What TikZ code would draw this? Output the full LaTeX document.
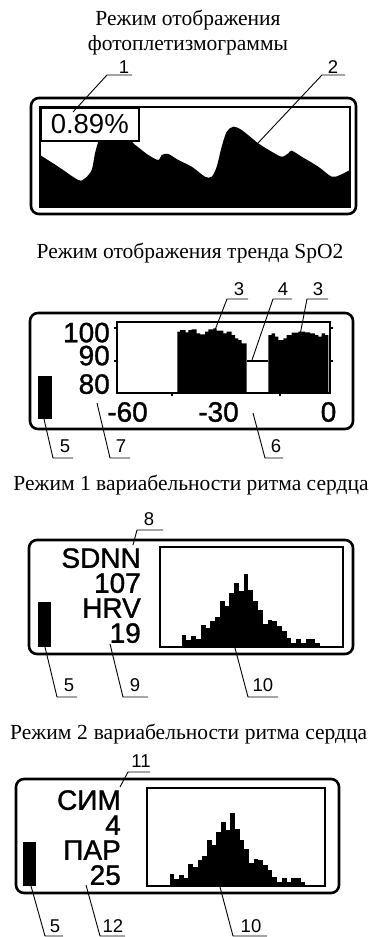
\documentclass[tikz,border=0pt]{standalone}
\usepackage{fontspec}
\setmainfont{Liberation Serif}
\newfontfamily\arialf{Liberation Sans}
\newfontfamily\arialm[FakeBold=1.2]{Liberation Sans}
\tikzset{
  ttl/.style={font=\fontsize{21.5}{24}\selectfont, inner sep=0pt},
  big/.style={font=\arialm\fontsize{28}{28}\selectfont, inner sep=0pt},
  stack/.style={font=\arialm\fontsize{28}{25}\selectfont, inner sep=0pt, align=right, anchor=north east},
  lab/.style={font=\arialf\fontsize{18.5}{18.5}\selectfont, inner sep=0pt},
  outerbox/.style={line width=2.6pt, rounded corners=8pt},
  innerbox/.style={line width=1.8pt},
  leader/.style={line width=0.9pt},
}
\newcommand\hrvhist[3]{%
  \foreach \h [count=\i from 0] in {12.3,7.3,10.7,8,22.3,19,25.7,30,45.7,41.3,54,64,55.7,73.3,57.3,45.7,37.3,23.3,26.7,25.7,20.7,15.7,9,4,8,4,8,8,4}
  {\fill ({#1+\i*#3},#2) rectangle ++(#3,-\h);}}
\newcommand\callout[6]{%
  \node[lab] (#1) at #3 {#2};
  \coordinate (#1tip) at #4;
  \coordinate (#1knee) at #5;
  \coordinate (#1end) at #6;
  \draw[leader] (#1tip) -- (#1knee) -- (#1end);}
\begin{document}
\begin{tikzpicture}[x=1pt,y=-1pt]
\useasboundingbox (0,0) rectangle (368,937);
% ---------- panel 1
\node[ttl] (t1a) at (188,20) {Режим отображения};
\node[ttl] (t1b) at (188,45) {фотоплетизмограммы};
\draw[outerbox] (31,98) rectangle (356,214);
\fill plot[smooth,tension=0.5] coordinates{(40,155)(58.3,166.7)(78.3,180)(85,178.3)(91.7,170)(95,153.3)(98.3,141.7)(102,133)(110,128)(122,129)(131.7,141.7)(138.3,147.3)(148.3,155)(158.3,160)(161.7,155)(168.3,154)(178.3,160)(191.7,166.7)(205,176.7)(211.7,176.7)(216.7,166.7)(221.7,146.7)(226.7,131.7)(233.3,126.7)(241.7,130)(258.3,143.3)(271.7,151.7)(281.7,156.7)(288.3,153.3)(291.7,150.7)(301.7,156.7)(318.3,166.7)(331.7,176.7)(340,175)(346.7,171.7)(350,170)} -- (350,207) -- (40,207) -- cycle;
\draw[innerbox] (40,107) rectangle (350,207);
\node[draw, fill=white, line width=1.5pt, minimum width=98pt, minimum height=33pt, inner sep=0pt, anchor=north west, font=\arialf\fontsize{27.5}{27.5}\selectfont] (pct) at (40,107) {0.89\%};
\callout{c1}{1}{(124,67)}{(73,112)}{(107,75)}{(132,75)}
\callout{c2}{2}{(333,67)}{(258,143)}{(322,75)}{(345,75)}
% ---------- panel 2
\node[ttl] (t2) at (190,253) {Режим отображения тренда SpO2};
\draw[outerbox] (30,313) rectangle (353,429);
\node[stack, font=\arialm\fontsize{28}{23}\selectfont] (yaxis) at (110,322.5) {100\\90\\[5.5pt]80};
\node[big] (xm60) at (127.5,412) {-60};
\node[big] (xm30) at (218.5,412) {-30};
\node[big] (x0) at (328.5,412) {0};
\fill (177.3,393) -- (177.3,331.7) -- (180,331.7) -- (180,330) -- (185.7,330) -- (185.7,332.3) -- (188.3,332.3) -- (188.3,330) -- (191.7,330) -- (191.7,329.3) -- (196.7,329.3) -- (196.7,333.3) -- (200,333.3) -- (200,334.3) -- (205,334.3) -- (205,331.7) -- (208.3,331.7) -- (208.3,329.3) -- (213.3,329.3) -- (213.3,328.3) -- (216.7,328.3) -- (216.7,330.7) -- (223.3,330.7) -- (223.3,333.3) -- (226.7,333.3) -- (226.7,331.7) -- (231.7,331.7) -- (231.7,335) -- (235,335) -- (235,338.3) -- (238.3,338.3) -- (238.3,340) -- (241.7,340) -- (241.7,343.3) -- (246.7,343.3) -- (246.7,393) -- cycle;
\fill (268.3,393) -- (268.3,335) -- (271.7,335) -- (271.7,333.3) -- (275,333.3) -- (275,336.7) -- (278.3,336.7) -- (278.3,340) -- (283.3,340) -- (283.3,338.3) -- (286.7,338.3) -- (286.7,335) -- (291.7,335) -- (291.7,332.7) -- (298.3,332.7) -- (298.3,331.7) -- (305,331.7) -- (305,332.3) -- (310,332.3) -- (310,333.3) -- (315,333.3) -- (315,335) -- (318.3,335) -- (318.3,336.7) -- (321.7,336.7) -- (321.7,333.3) -- (325,333.3) -- (325,335) -- (328.3,335) -- (328.3,393) -- cycle;
\draw[line width=1.2pt] (246.7,361) -- (268.3,361);
\draw[line width=1.1pt] (117,322) rectangle (330,393);
\draw[line width=2pt] (117,321) -- (117,393) -- (330,393);
\draw[line width=1.2pt] (114,328) -- (117,328) (114,361) -- (117,361) (330,328) -- (333,328) (330,361) -- (333,361) (172,393) -- (172,396) (280,393) -- (280,396);
\fill (38,376) rectangle (52,419);
\callout{c3a}{3}{(239,289)}{(215,330)}{(227,299)}{(248,299)}
\callout{c4}{4}{(283,289)}{(252,360)}{(273,299)}{(292,299)}
\callout{c3b}{3}{(318,289)}{(300,335)}{(307,299)}{(328,299)}
\callout{c5a}{5}{(65,446)}{(44,419)}{(53,458)}{(73,458)}
\callout{c7}{7}{(121,446)}{(97,403)}{(110,458)}{(130,458)}
\callout{c6}{6}{(276,446)}{(253,413)}{(265,458)}{(283,458)}
% ---------- panel 3
\node[ttl] (t3) at (191,485) {Режим 1 вариабельности ритма сердца};
\draw[outerbox] (29,540) rectangle (353,654);
\hrvhist{181.7}{647}{4.77}
\draw[innerbox] (160,547) rectangle (343,647);
\node[stack] (hrvtext) at (141,548) {SDNN\\107\\HRV\\19};
\fill (38,602) rectangle (51,647);
\callout{c8}{8}{(149,519)}{(133,545)}{(137,530)}{(163,530)}
\callout{c5b}{5}{(69,685)}{(45,647)}{(57,697)}{(77,697)}
\callout{c9}{9}{(135,685)}{(110,644)}{(123,697)}{(148,697)}
\callout{c10a}{10}{(263,685)}{(235,648)}{(248,697)}{(278,697)}
% ---------- panel 4
\node[ttl, anchor=west] (t4) at (10,734) {\makebox[357pt][s]{Режим 2 вариабельности ритма сердца}};
\draw[outerbox] (16,779) rectangle (339,893);
\hrvhist{169.5}{886}{4.68}
\draw[innerbox] (147,788) rectangle (325,886);
\node[stack] (simtext) at (121,790) {СИМ\\4\\ПАР\\25};
\fill (23,842) rectangle (36,886);
\callout{c11}{11}{(141,761)}{(120,787)}{(128,772)}{(150,772)}
\callout{c5c}{5}{(55,926)}{(31,886)}{(45,936)}{(63,936)}
\callout{c12}{12}{(113,926)}{(86,885)}{(100,936)}{(125,936)}
\callout{c10b}{10}{(251,926)}{(220,887)}{(233,936)}{(267,936)}
\end{tikzpicture}
\end{document}
